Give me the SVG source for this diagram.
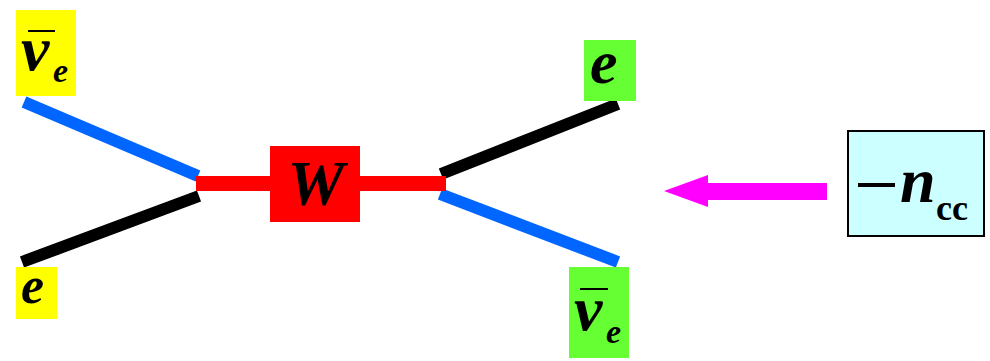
<svg xmlns="http://www.w3.org/2000/svg" width="990" height="361" viewBox="0 0 990 361">
<style>
.lbl{font-family:"Liberation Serif","Times New Roman",serif;font-weight:bold;font-style:italic;fill:#000}
.sub{font-family:"Liberation Serif","Times New Roman",serif;font-weight:bold;fill:#000}
.bar{stroke:#000;stroke-width:2}
.ln{stroke-width:12;fill:none}
</style>
<rect width="990" height="361" fill="#fff"/>
<g id="connectors">
<line class="ln" x1="24" y1="102" x2="198" y2="176" stroke="#0066ff"/>
<line class="ln" x1="22" y1="262" x2="199" y2="196" stroke="#000"/>
<line class="ln" x1="441" y1="174" x2="618" y2="104" stroke="#000"/>
<line class="ln" x1="440" y1="194" x2="618" y2="262" stroke="#0066ff"/>
<rect x="196" y="176" width="250" height="15" fill="#ff0000"/>
<polygon points="664,191 708,175 708,183 827,183 827,200 708,200 708,207" fill="#ff00ff"/>
</g>
<g id="nubar-top">
<rect x="16" y="10" width="60" height="86" fill="#ffff00"/>
<line class="bar" x1="28" y1="31" x2="55" y2="31"/>
<text class="lbl" x="21" y="70" font-size="64">ν</text>
<text class="lbl" x="53" y="82" font-size="34">e</text>
</g>
<g id="e-bottom">
<rect x="16" y="267" width="41" height="52" fill="#ffff00"/>
<text class="lbl" x="21" y="303" font-size="52">e</text>
</g>
<g id="W">
<rect x="270" y="146" width="90" height="76" fill="#ff0000"/>
<text class="lbl" x="316" y="205" font-size="64" text-anchor="middle">W</text>
</g>
<g id="e-top">
<rect x="584" y="40" width="52" height="61" fill="#66ff33"/>
<text class="lbl" x="590" y="83" font-size="62">e</text>
</g>
<g id="nubar-bottom">
<rect x="569" y="267" width="60" height="91" fill="#66ff33"/>
<line class="bar" x1="580" y1="289" x2="608" y2="289"/>
<text class="lbl" x="574" y="330" font-size="64">ν</text>
<text class="lbl" x="606" y="343" font-size="34">e</text>
</g>
<g id="ncc">
<rect x="848" y="131" width="136" height="105" fill="#ccffff" stroke="#000" stroke-width="2"/>
<rect x="858" y="183" width="37" height="4" fill="#000"/>
<text class="lbl" x="900" y="202" font-size="64">n</text>
<text class="sub" x="936" y="220" font-size="36">cc</text>
</g>
</svg>
